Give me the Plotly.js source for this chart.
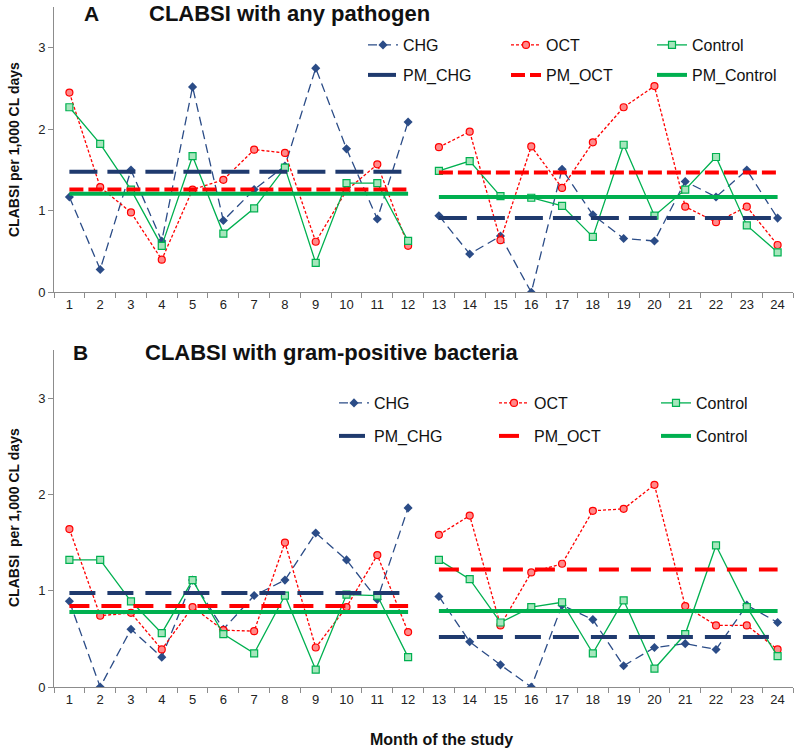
<!DOCTYPE html>
<html>
<head>
<meta charset="utf-8">
<script src="https://cdn.plot.ly/plotly-3.0.1.min.js"></script>
<style>
  body { margin: 0; padding: 0; background: #fff; }
  #graph { width: 797px; height: 749px; }
</style>
</head>
<body>
<div id="graph"></div>
<script>
let months = ['1','2','3','4','5','6','7','8','9','10','11','12',
              '13','14','15','16','17','18','19','20','21','22','23','24'];

// panel A - any pathogen
let aCHG  = [1.17,0.28,1.50,0.63,2.52,0.88,1.26,1.55,2.75,1.76,0.90,2.09,
             0.94,0.47,0.69,0.00,1.51,0.95,0.66,0.63,1.36,1.17,1.50,0.91];
let aOCT  = [2.45,1.29,0.98,0.40,1.26,1.38,1.75,1.71,0.62,1.25,1.57,0.57,
             1.78,1.97,0.64,1.79,1.28,1.84,2.27,2.53,1.05,0.86,1.05,0.58];
let aCtrl = [2.27,1.82,1.26,0.57,1.67,0.72,1.03,1.53,0.36,1.34,1.34,0.63,
             1.49,1.61,1.18,1.16,1.06,0.68,1.81,0.94,1.26,1.66,0.82,0.49];
let aPmCHG  = [1.48, 0.91];
let aPmOCT  = [1.26, 1.47];
let aPmCtrl = [1.21, 1.17];

// panel B - gram-positive bacteria
let bCHG  = [0.89,0.00,0.60,0.31,1.11,0.60,0.95,1.11,1.60,1.32,0.91,1.86,
             0.94,0.47,0.23,0.00,0.85,0.70,0.22,0.41,0.45,0.39,0.85,0.67];
let bOCT  = [1.64,0.74,0.77,0.39,0.83,0.59,0.58,1.50,0.41,0.83,1.37,0.57,
             1.58,1.78,0.64,1.19,1.28,1.83,1.85,2.10,0.84,0.64,0.64,0.39];
let bCtrl = [1.32,1.32,0.89,0.56,1.11,0.55,0.35,0.95,0.18,0.96,0.95,0.31,
             1.32,1.12,0.67,0.83,0.88,0.35,0.90,0.19,0.55,1.47,0.83,0.32];
let bPmCHG  = [0.975, 0.52];
let bPmOCT  = [0.84, 1.22];
let bPmCtrl = [0.78, 0.79];

let namesA = ['CHG','OCT','Control','PM_CHG','PM_OCT','PM_Control'];
let namesB = ['CHG','OCT','Control','PM_CHG','PM_OCT','Control'];

const FONT = 'Liberation Sans, Arial, sans-serif';
const navy = '#2B4C87', navyPM = '#1F3A6E', red = '#FF0000', green = '#00B050';

// plot area in pixels
const L = 54, R = 793, T = 7, B = 687;
function px(x) { return (x - L) / (R - L); }
function py(y) { return (B - y) / (B - T); }

let styles = [
  {line: {color: navy, width: 1.3, dash: '9px,5px'},
   marker: {symbol: 'diamond', size: 7, color: navy}},
  {line: {color: red, width: 1.3, dash: '3px,2px'},
   marker: {symbol: 'circle', size: 7, color: '#FF8A8A', line: {color: red, width: 1.2}}},
  {line: {color: green, width: 1.3},
   marker: {symbol: 'square', size: 7, color: '#A6E6BC', line: {color: green, width: 1.2}}}
];
let pmStylesA = [
  {color: navyPM, width: 4, dash: '28px,10px'},
  {color: red, width: 4, dash: '14px,5px'},
  {color: green, width: 4}
];
let pmStylesB = [
  {color: navyPM, width: 4, dash: '26px,12px'},
  {color: red, width: 4, dash: '20px,12px'},
  {color: green, width: 4}
];

let data = [];
let legends = {};
let legendCount = 0;

function addLegend(x, y) {
  legendCount++;
  let key = legendCount === 1 ? 'legend' : 'legend' + legendCount;
  legends[key] = {
    xref: 'paper', yref: 'paper',
    x: px(x), y: py(y),
    xanchor: 'left', yanchor: 'middle',
    bgcolor: 'rgba(0,0,0,0)', borderwidth: 0,
    font: {family: FONT, size: 16, color: '#111'}
  };
  return key;
}

function buildPanel(series, pms, names, pmStyles, xa, ya, legX, legY) {
  for (let s = 0; s < 3; s++) {
    let lg = addLegend(legX[s], legY[0]);
    for (let h = 0; h < 2; h++) {
      data.push({
        x: months.slice(h * 12, h * 12 + 12),
        y: series[s].slice(h * 12, h * 12 + 12),
        xaxis: xa, yaxis: ya,
        type: 'scatter', mode: 'lines+markers',
        name: names[s], legend: lg, showlegend: h === 0,
        line: styles[s].line, marker: styles[s].marker,
        hoverinfo: 'skip'
      });
    }
  }
  for (let s = 0; s < 3; s++) {
    let lg = addLegend(legX[s], legY[1]);
    for (let h = 0; h < 2; h++) {
      data.push({
        x: [months[h * 12], months[h * 12 + 11]],
        y: [pms[s][h], pms[s][h]],
        xaxis: xa, yaxis: ya,
        type: 'scatter', mode: 'lines',
        name: names[s + 3], legend: lg, showlegend: h === 0,
        line: pmStyles[s],
        hoverinfo: 'skip'
      });
    }
  }
}

buildPanel([aCHG, aOCT, aCtrl], [aPmCHG, aPmOCT, aPmCtrl], namesA, pmStylesA,
           'x', 'y', [363, 506, 652], [45, 75]);
buildPanel([bCHG, bOCT, bCtrl], [bPmCHG, bPmOCT, bPmCtrl], namesB, pmStylesB,
           'x2', 'y2', [334, 494, 656], [403, 436]);

let xAxisBase = {
  type: 'category', categoryorder: 'array', categoryarray: months,
  range: [-0.5, 23.5], tickson: 'boundaries', tickangle: 0,
  ticks: 'outside', ticklen: 5, tickcolor: '#8C8C8C',
  showline: true, linecolor: '#8C8C8C', linewidth: 1,
  showgrid: false, zeroline: false,
  tickfont: {family: FONT, size: 13, color: '#222'}
};
let yAxisBase = {
  range: [0, 3.5], tickvals: [0, 1, 2, 3],
  ticks: 'outside', ticklen: 5, tickcolor: '#8C8C8C',
  showline: true, linecolor: '#8C8C8C', linewidth: 1,
  showgrid: false, zeroline: false,
  tickfont: {family: FONT, size: 13, color: '#222'}
};

function note(text, x, y, size, opts) {
  return Object.assign({
    text: text, xref: 'paper', yref: 'paper', x: px(x), y: py(y),
    xanchor: 'left', yanchor: 'middle', showarrow: false,
    font: {family: FONT, size: size, color: '#111'}
  }, opts || {});
}

let layout = Object.assign({
  width: 797, height: 749,
  margin: {l: L, r: 797 - R, t: T, b: 749 - B},
  paper_bgcolor: '#fff', plot_bgcolor: '#fff',
  showlegend: true,
  font: {family: FONT},
  xaxis: Object.assign({anchor: 'y'}, xAxisBase),
  yaxis: Object.assign({domain: [py(292.3), 1], anchor: 'x'}, yAxisBase),
  xaxis2: Object.assign({anchor: 'y2'}, xAxisBase),
  yaxis2: Object.assign({domain: [0, py(350)], anchor: 'x2'}, yAxisBase),
  annotations: [
    note('<b>A</b>', 82, 14, 21),
    note('<b>CLABSI with any pathogen</b>', 147, 14, 22),
    note('<b>B</b>', 71, 352, 21),
    note('<b>CLABSI with gram-positive bacteria</b>', 143, 352, 22),
    note('<b>CLABSI per 1,000 CL days</b>', 14, 150, 14, {textangle: -90, xanchor: 'center'}),
    note('<b>CLABSI\u00a0 per 1,000 CL days</b>', 14, 518, 14, {textangle: -90, xanchor: 'center'}),
    note('<b>Month of the study</b>', 441, 739, 16, {xanchor: 'center'})
  ]
}, legends);

Plotly.newPlot('graph', data, layout, {displayModeBar: false, staticPlot: true});
</script>
</body>
</html>
